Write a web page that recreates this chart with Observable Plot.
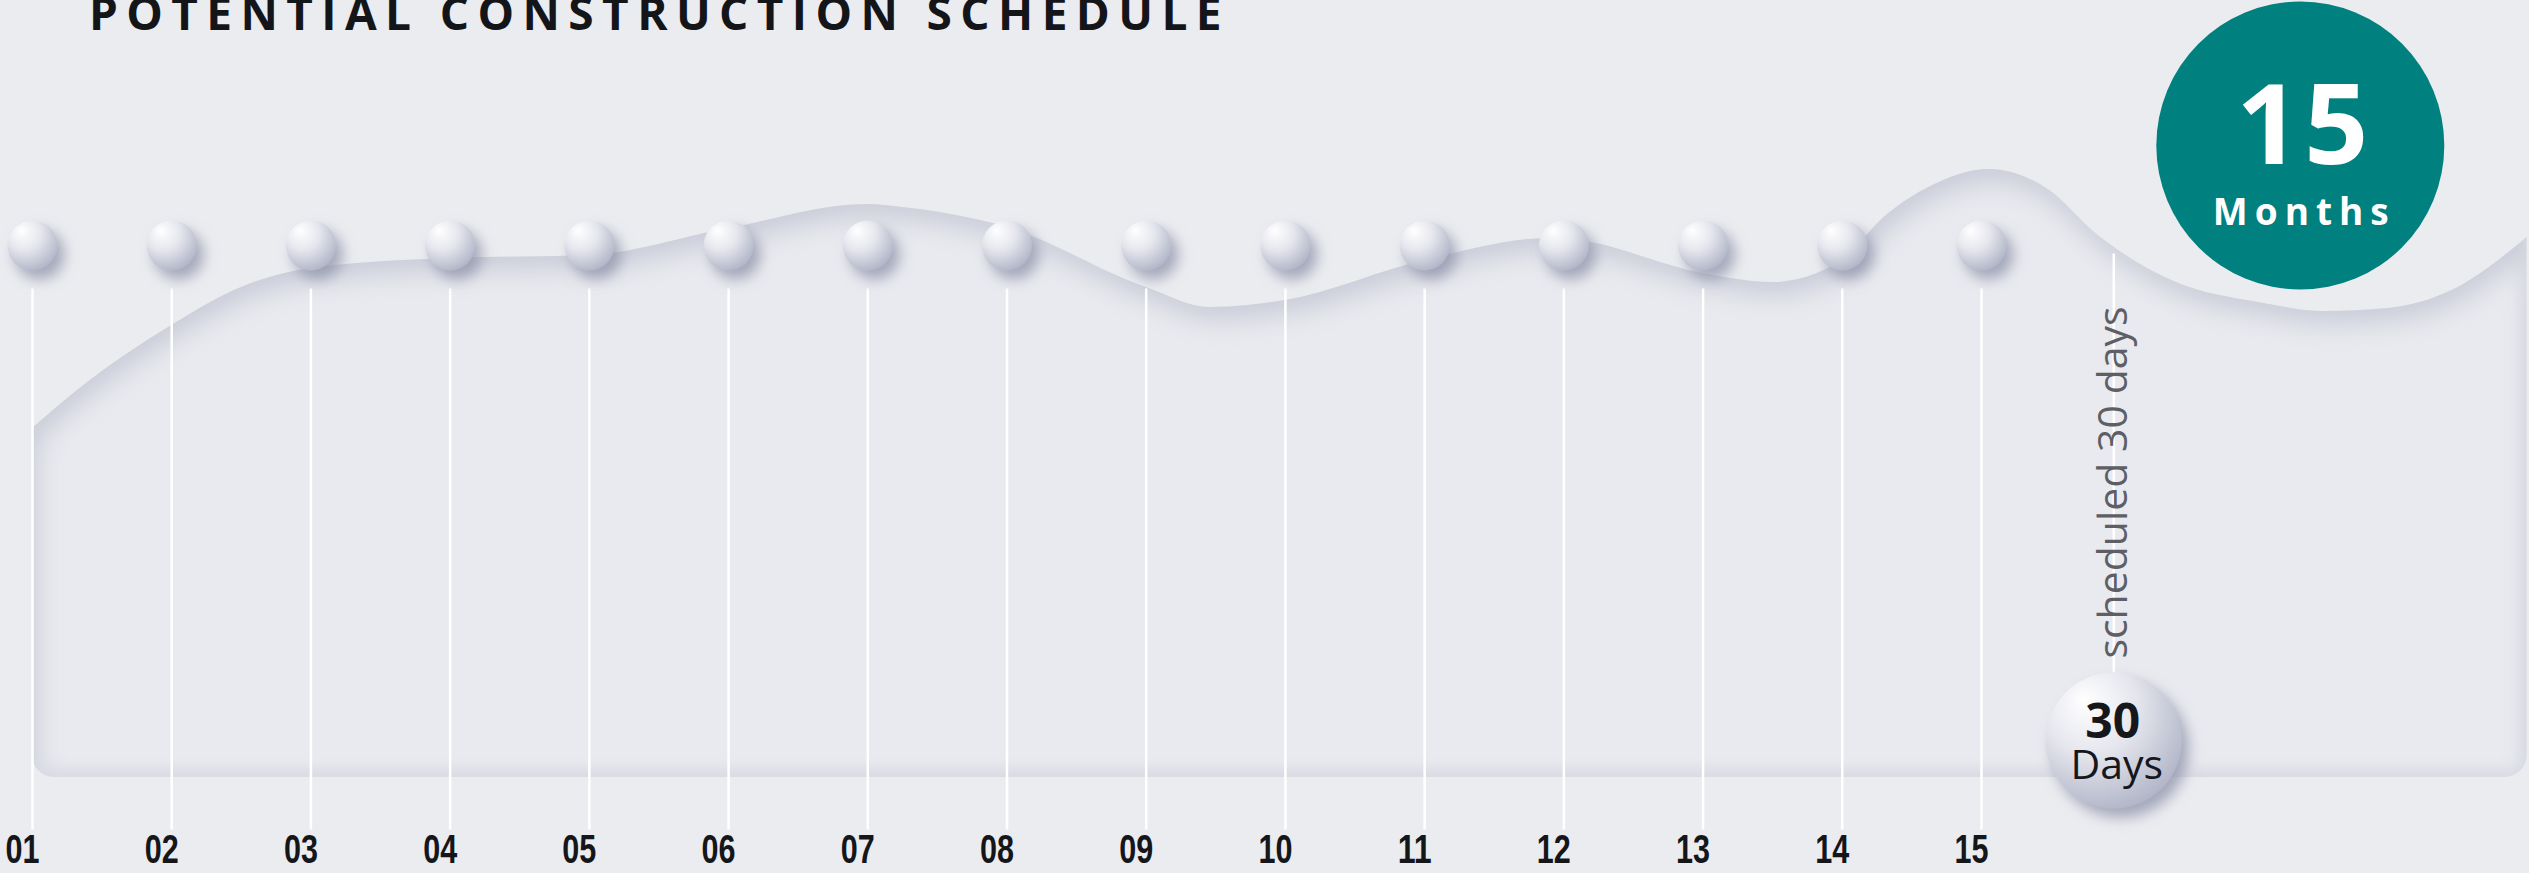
<!DOCTYPE html>
<html><head><meta charset="utf-8">
<script src="https://cdn.jsdelivr.net/npm/d3@7"></script>
<script src="https://cdn.jsdelivr.net/npm/@observablehq/plot@0.6"></script>
<style>
html,body{margin:0;padding:0;background:#ebecf0;overflow:hidden}
#wrap{position:relative;width:2529px;height:873px}
#title{position:absolute;z-index:2;left:89px;top:-11px;margin:0;font-family:"Open Sans";font-weight:700;font-size:46px;line-height:46px;letter-spacing:8.4px;color:#141519;white-space:nowrap}
#chart svg{display:block}
</style></head><body>
<div id="wrap"><h1 id="title">POTENTIAL CONSTRUCTION SCHEDULE</h1><div id="chart"></div></div>
<script>
// ---- data ----
const months = ["01","02","03","04","05","06","07","08","09","10","11","12","13","14","15"];
const totalMonths = 15;
const reviewDays = 30;
// decorative wave (panel top): position in month units, height level
const waveMonth = [1, 1.35, 2, 2.5, 3, 4, 5, 6, 7, 7.25, 8, 9, 9.46, 10, 11, 11.9, 12.1, 13, 13.5, 14, 14.3, 14.65, 15.05, 15.48, 15.83, 16.4, 16.99, 17.46, 17.92, 18.38, 18.92];
const waveLevel = [349, 390, 452, 490, 509, 519, 522, 549, 573, 570, 550, 490, 470, 477, 517, 539, 537, 504, 495, 517, 560, 592, 608, 588, 543, 495, 475, 466, 469, 487, 540];

const stems = months.map((label, i) => ({label, m: i + 1}));
const wave = waveMonth.map((m, i) => ({m, level: waveLevel[i]}));

const chart = Plot.plot({
  width: 2529, height: 873, margin: 0,
  x: {domain: [1, 15], range: [32, 1981], axis: null},
  y: {domain: [0, 777], range: [777, 0], axis: null},
  style: {background: "transparent", fontFamily: "Open Sans", overflow: "visible"},
  marks: [
    Plot.areaY(wave, {x: "m", y1: 0, y2: "level", curve: "monotone-x", fill: "#e9eaef", ariaDescription: "panel"}),
    Plot.link(stems, {x1: "m", x2: "m", y1: 489, y2: -52, stroke: "#ffffff", strokeWidth: 2.5}),
    Plot.link([reviewDays], {x1: 15.95, x2: 15.95, y1: 524, y2: 105, stroke: "#ffffff", strokeWidth: 2.5}),
    Plot.text([`scheduled ${reviewDays} days`], {x: 15.95, y: 295, text: d => d, rotate: -90, fontSize: 41, fill: "#5e5f64", lineAnchor: "middle"}),
    Plot.dot(stems, {x: "m", y: 532, r: 25, fill: "url(#ballGrad)", ariaDescription: "balls"}),
    Plot.dot([reviewDays], {x: 15.95, y: 37, r: 68, fill: "url(#ballGrad)", ariaDescription: "balls"}),
    Plot.dot([totalMonths], {x: 17.29, y: 632, r: 144, fill: "#00807e"}),
    Plot.text([totalMonths], {x: 17.29, y: 614, text: d => String(d), fontSize: 112, fontWeight: 700, fill: "#ffffff", lineAnchor: "bottom", dx: 4, ariaDescription: "bignum"}),
    Plot.text(["Months"], {x: 17.29, y: 553, text: d => d, fontSize: 37, fontWeight: 700, fill: "#ffffff", lineAnchor: "bottom", dx: 4, ariaDescription: "months"}),
    Plot.text([reviewDays], {x: 15.95, y: 40, text: d => String(d), fontSize: 48, fontWeight: 700, fill: "#16171b", lineAnchor: "bottom", dx: -1}),
    Plot.text(["Days"], {x: 15.95, y: -1, text: d => d, fontSize: 41, fontWeight: 400, fill: "#16171b", lineAnchor: "bottom", dx: 3}),
    Plot.text(stems, {x: "m", y: -85, text: "label", fontFamily: "Liberation Sans", fontWeight: 700, fontSize: 40, fill: "#15161a", lineAnchor: "bottom", dx: -10, ariaDescription: "labels"})
  ]
});
document.getElementById("chart").appendChild(chart);

// ---- visual effects ----
const svg = d3.select(chart);
const defs = svg.insert("defs", ":first-child");
const grad = defs.append("radialGradient").attr("id", "ballGrad")
  .attr("cx", "0.38").attr("cy", "0.32").attr("r", "0.75").attr("fx", "0.28").attr("fy", "0.2");
[[0, "#ffffff"], [0.45, "#e6e7ee"], [1, "#adb1c4"]].forEach(([o, c]) =>
  grad.append("stop").attr("offset", o).attr("stop-color", c));

const fs = defs.append("filter").attr("id", "ballShadow").attr("filterUnits", "userSpaceOnUse")
  .attr("x", 0).attr("y", 0).attr("width", 2529).attr("height", 873);
fs.append("feDropShadow").attr("dx", 7).attr("dy", 9).attr("stdDeviation", 7)
  .attr("flood-color", "#8d91a8").attr("flood-opacity", 0.75);

const f = defs.append("filter").attr("id", "panelInset")
  .attr("x", "-5%").attr("y", "-20%").attr("width", "110%").attr("height", "140%");
f.append("feComponentTransfer").attr("in", "SourceAlpha").attr("result", "inv")
  .append("feFuncA").attr("type", "table").attr("tableValues", "1 0");
f.append("feGaussianBlur").attr("in", "inv").attr("stdDeviation", 14).attr("result", "b1");
f.append("feOffset").attr("in", "b1").attr("dx", 4).attr("dy", 12).attr("result", "o1");
f.append("feFlood").attr("flood-color", "#c6c9d6").attr("result", "c1");
f.append("feComposite").attr("in", "c1").attr("in2", "o1").attr("operator", "in").attr("result", "s1");
f.append("feComposite").attr("in", "s1").attr("in2", "SourceAlpha").attr("operator", "in").attr("result", "s1c");
f.append("feGaussianBlur").attr("in", "inv").attr("stdDeviation", 7).attr("result", "b2");
f.append("feOffset").attr("in", "b2").attr("dx", -3).attr("dy", -7).attr("result", "o2");
f.append("feFlood").attr("flood-color", "#d8dae2").attr("result", "c2");
f.append("feComposite").attr("in", "c2").attr("in2", "o2").attr("operator", "in").attr("result", "s2");
f.append("feComposite").attr("in", "s2").attr("in2", "SourceAlpha").attr("operator", "in").attr("result", "s2c");
const mg = f.append("feMerge");
mg.append("feMergeNode").attr("in", "SourceGraphic");
mg.append("feMergeNode").attr("in", "s1c");
mg.append("feMergeNode").attr("in", "s2c");

const xs = chart.scale("x"), ys = chart.scale("y");
const left = xs.apply(waveMonth[0]), right = xs.apply(waveMonth[waveMonth.length - 1]);
defs.append("clipPath").attr("id", "panelClip").append("rect")
  .attr("x", left).attr("y", 0).attr("width", right - left).attr("height", ys.apply(0)).attr("rx", 22);

svg.selectAll('g[aria-description="panel"]').attr("filter", "url(#panelInset)").attr("clip-path", "url(#panelClip)");
svg.selectAll('g[aria-description="balls"]').attr("filter", "url(#ballShadow)")
  .selectAll("circle").attr("fill", "url(#ballGrad)");
svg.selectAll('g[aria-description="months"] text').style("letter-spacing", "7px");
svg.selectAll('g[aria-description="bignum"] text').style("letter-spacing", "4px");
svg.selectAll('g[aria-description="labels"] text').attr("textLength", 34).attr("lengthAdjust", "spacingAndGlyphs");
</script>
</body></html>
